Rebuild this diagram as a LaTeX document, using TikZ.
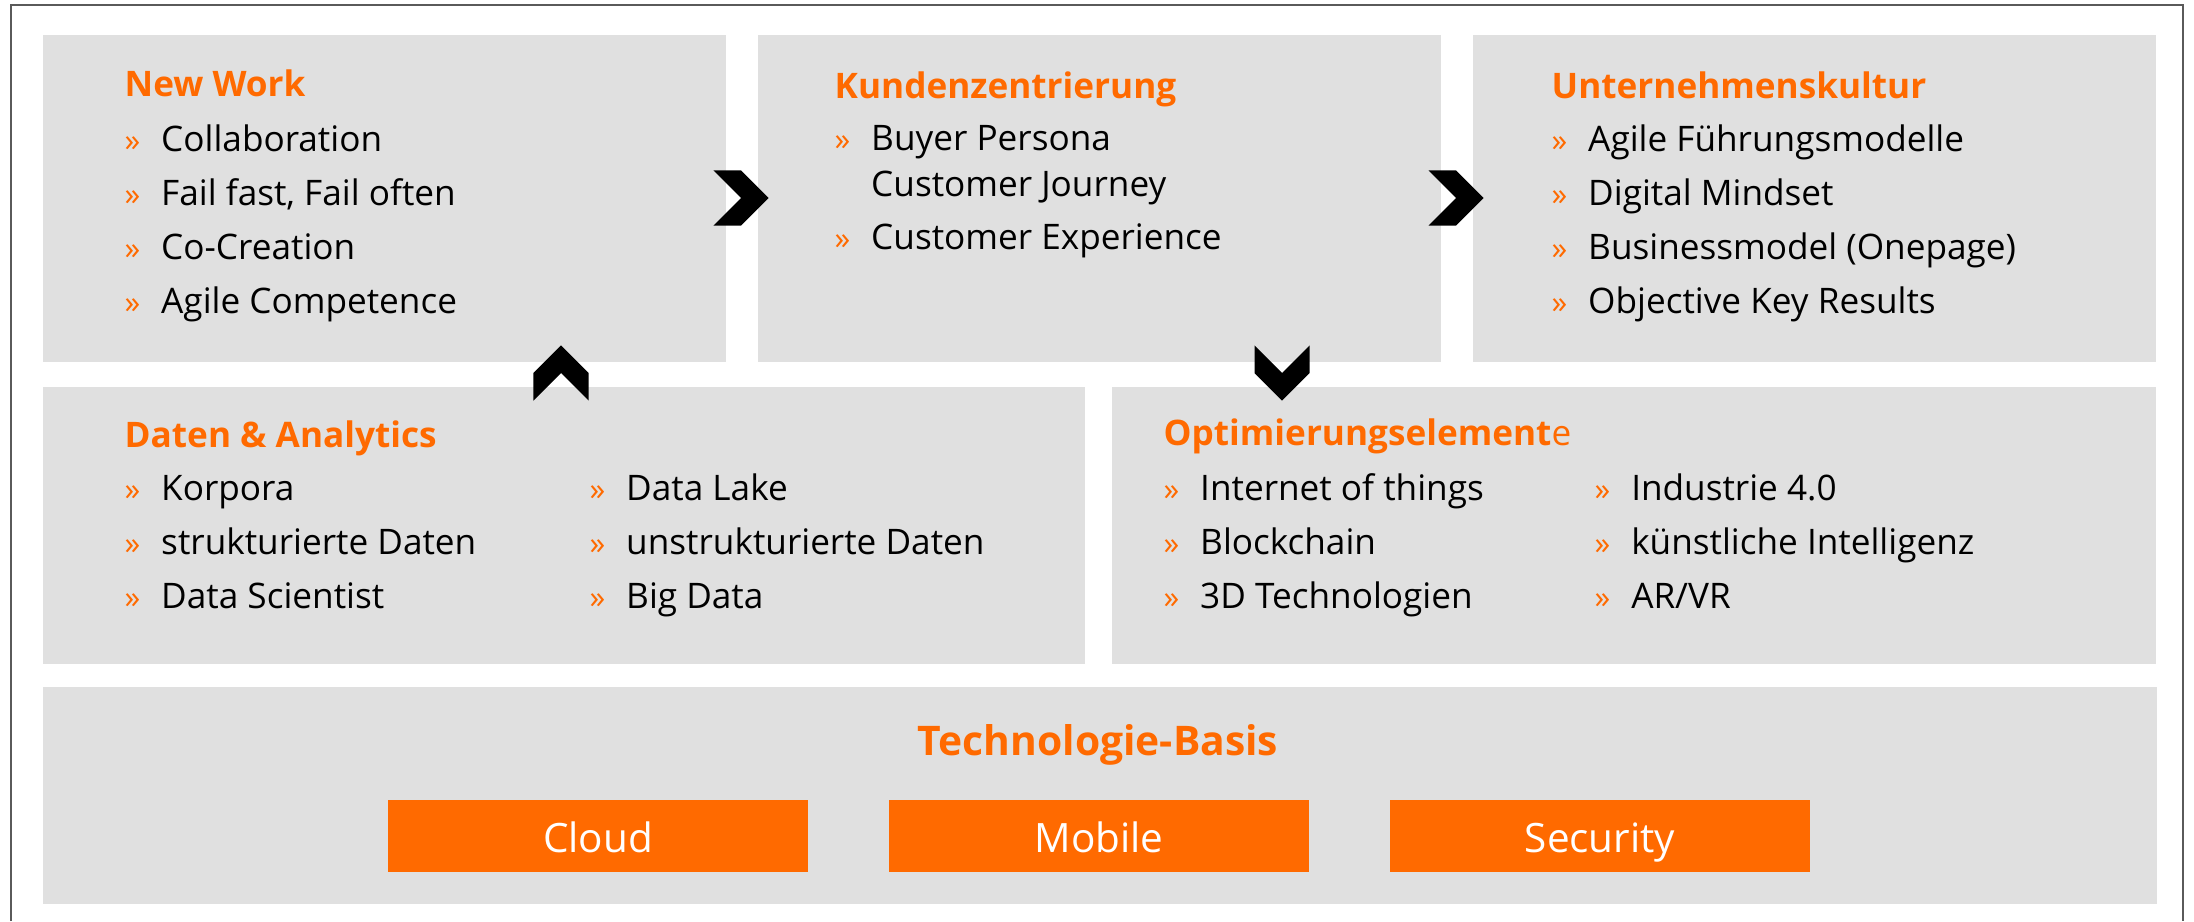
\documentclass[tikz,border=0pt]{standalone}
\usepackage{fontspec}
\setmainfont{Open Sans}
\usetikzlibrary{shapes.symbols}

\definecolor{accent}{HTML}{FF6A00}
\definecolor{boxgray}{HTML}{E0E0E0}
\definecolor{framegray}{HTML}{5A5A5A}

% orange bullet in front of every entry
\newcommand{\itm}{\makebox[0.365cm][l]{\textcolor{accent}{\fontsize{9}{9}\selectfont »}}}
\newcommand{\itmgap}{\makebox[0.365cm][l]{}}

\begin{document}
\begin{tikzpicture}[x=0.01cm, y=-0.01cm,
  panel/.style={fill=boxgray, inner sep=0pt, anchor=north west},
  heading/.style={anchor=base west, inner sep=0pt, text=accent, font=\fontsize{10}{12}\selectfont\bfseries},
  entry/.style={anchor=base west, inner sep=0pt, font=\fontsize{10}{12}\selectfont},
  chevron/.style={signal, signal to=east, signal from=west, fill=black, signal pointer angle=90, minimum width=0.55cm, minimum height=0.55cm, inner sep=0pt},
  techbox/.style={fill=accent, text=white, minimum width=4.2cm, minimum height=0.72cm, inner sep=0pt, text height=0.32cm, text depth=0pt, font=\fontsize{11.5}{14}\selectfont}]
\useasboundingbox (0,0) rectangle (2194,921);

% Outer frame
\draw[framegray, line width=0.6pt] (11,921) -- (11,5) -- (2183,5) -- (2183,921);

% Gray panels
\node[panel, minimum width=6.83cm, minimum height=3.27cm] (newwork) at (42,34) {};
\node[panel, minimum width=6.83cm, minimum height=3.27cm] (kunden) at (757,34) {};
\node[panel, minimum width=6.83cm, minimum height=3.27cm] (kultur) at (1472,34) {};
\node[panel, minimum width=10.42cm, minimum height=2.77cm] (daten) at (42,386) {};
\node[panel, minimum width=10.44cm, minimum height=2.77cm] (optim) at (1111,386) {};
\node[panel, minimum width=21.13cm, minimum height=2.17cm] (basis) at (42,686) {};

% New Work
\node[heading] (nwtitle) at (124,97) {New Work};
\node[entry] (nw1) at (124,151) {\itm Collaboration};
\node[entry] (nw2) at (124,205) {\itm Fail fast, Fail often};
\node[entry] (nw3) at (124,259) {\itm Co-Creation};
\node[entry] (nw4) at (124,313) {\itm Agile Competence};

% Kundenzentrierung
\node[heading] (kztitle) at (834,98) {Kundenzentrierung};
\node[entry] (kz1) at (834,150) {\itm Buyer Persona};
\node[entry] (kz2) at (834,196) {\itmgap Customer Journey};
\node[entry] (kz3) at (834,249) {\itm Customer Experience};

% Unternehmenskultur
\node[heading] (uktitle) at (1551,98) {Unternehmenskultur};
\node[entry] (uk1) at (1551,151) {\itm Agile Führungsmodelle};
\node[entry] (uk2) at (1551,205) {\itm Digital Mindset};
\node[entry] (uk3) at (1551,259) {\itm Businessmodel (Onepage)};
\node[entry] (uk4) at (1551,313) {\itm Objective Key Results};

% Daten & Analytics
\node[heading] (datitle) at (124,447) {Daten \& Analytics};
\node[entry] (da1) at (124,500) {\itm Korpora};
\node[entry] (da2) at (124,554) {\itm strukturierte Daten};
\node[entry] (da3) at (124,608) {\itm Data Scientist};
\node[entry] (da4) at (589,500) {\itm Data Lake};
\node[entry] (da5) at (589,554) {\itm unstrukturierte Daten};
\node[entry] (da6) at (589,608) {\itm Big Data};

% Optimierungselemente
\node[heading] (optitle) at (1163,445) {Optimierungselement\textmd{e}};
\node[entry] (op1) at (1163,500) {\itm Internet of things};
\node[entry] (op2) at (1163,554) {\itm Blockchain};
\node[entry] (op3) at (1163,608) {\itm 3D Technologien};
\node[entry] (op4) at (1594,500) {\itm Industrie 4.0};
\node[entry] (op5) at (1594,554) {\itm künstliche Intelligenz};
\node[entry] (op6) at (1594,608) {\itm AR/VR};

% Technologie-Basis
\node[anchor=base, inner sep=0pt, text=accent, font=\fontsize{11.6}{14}\selectfont\bfseries] (tbtitle) at (1098,755) {Technologie-Basis};
\node[techbox] (cloud) at (598,836) {Cloud};
\node[techbox] (mobile) at (1099,836) {Mobile};
\node[techbox] (security) at (1600,836) {Security};

% Chevrons between the panels
\node[chevron] (chev1) at (741,198) {};
\node[chevron] (chev2) at (1456,198) {};
\node[chevron, rotate=90] (chev3) at (561,373) {};
\node[chevron, rotate=-90] (chev4) at (1282,373) {};
\end{tikzpicture}
\end{document}
